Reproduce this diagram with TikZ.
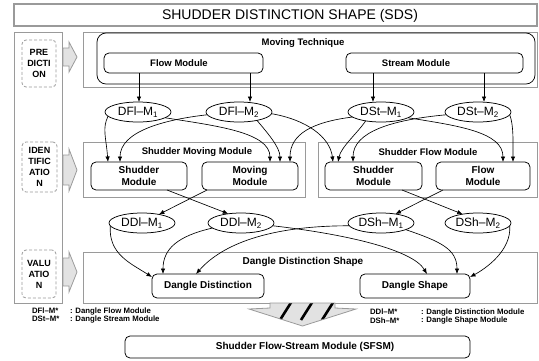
\documentclass[tikz,border=0pt]{standalone}
\usepackage{fontspec}
\setmainfont{Liberation Sans}
\usetikzlibrary{arrows.meta,shapes.geometric}
\definecolor{frame}{HTML}{9A9A9A}
\definecolor{lightfill}{HTML}{E2E2E2}
\begin{document}
\begin{tikzpicture}[x=1pt,y=-1pt,
  every node/.style={inner sep=0pt,outer sep=0pt},
  gbox/.style={draw=frame,line width=0.9pt,anchor=north west},
  rbox/.style={draw,line width=0.75pt,rounded corners=5pt,anchor=north west},
  ell/.style={ellipse,draw,line width=0.75pt,minimum width=66pt,minimum height=20pt,
    font=\fontsize{12}{12}\selectfont},
  con/.style={-{Latex[length=5.5pt,width=4.4pt]},line width=0.65pt},
  lab/.style={font=\bfseries\fontsize{9.5}{11}\selectfont,align=center},
  lab2/.style={font=\bfseries\fontsize{10}{12}\selectfont,align=center},
  side/.style={draw=frame,dash pattern=on 3pt off 2pt,rounded corners=4pt,
    line width=0.8pt,anchor=north west,font=\bfseries\fontsize{9}{11}\selectfont,align=center},
  blockarrow/.style={fill=lightfill,draw=frame,line width=0.8pt},
  legend/.style={font=\bfseries\fontsize{7.8}{8}\selectfont,anchor=west},
]
\useasboundingbox (0,0) rectangle (539,360);

% title bar
\node[gbox,line width=1.3pt,minimum width=523pt,minimum height=22pt] (title) at (14,4) {};
\node[font=\fontsize{14}{14}\selectfont] (titletext) at (290,15.5) {SHUDDER DISTINCTION SHAPE (SDS)};

% left column with the three phases
\node[gbox,minimum width=48pt,minimum height=271pt] (leftcol) at (14,32) {};
\node[side,minimum width=34pt,minimum height=47pt] (pred) at (22,40) {PRE\\DICTI\\ON};
\node[side,minimum width=35pt,minimum height=50pt] (ident) at (22,142) {IDEN\\TIFIC\\ATIO\\N};
\node[side,minimum width=34pt,minimum height=48pt] (valu) at (22,250) {VALU\\ATIO\\N};

% block arrows from the phases
\draw[blockarrow] (63,48) -- (69,48) -- (69,42) -- (77,57) -- (69,72) -- (69,66) -- (63,66) -- cycle;
\draw[blockarrow] (63,155) -- (69,155) -- (69,149) -- (77,170) -- (69,191) -- (69,185) -- (63,185) -- cycle;
\draw[blockarrow] (63,258) -- (69,258) -- (69,252) -- (77,272) -- (69,292) -- (69,286) -- (63,286) -- cycle;

% prediction: moving technique
\node[gbox,minimum width=454pt,minimum height=55pt] (predgrp) at (83,32) {};
\node[rbox,rounded corners=9pt,minimum width=438pt,minimum height=51pt] (mtech) at (97,33) {};
\node[lab] (mtechtext) at (303,43) {Moving Technique};
\node[rbox,minimum width=159pt,minimum height=20pt] (flowm) at (104,53) {};
\node[lab] (flowmtext) at (179,63) {Flow Module};
\node[rbox,minimum width=177pt,minimum height=20pt] (streamm) at (346,53) {};
\node[lab] (streammtext) at (416,63) {Stream Module};

% first row of dangle modules
\node[ell] (dfl1) at (138,112) {DFl–M\textsubscript{1}};
\node[ell] (dfl2) at (239,112) {DFl–M\textsubscript{2}};
\node[ell] (dst1) at (381,112) {DSt–M\textsubscript{1}};
\node[ell] (dst2) at (478,112) {DSt–M\textsubscript{2}};

\draw[con] ([xshift=35pt]flowm.south west) -- ([xshift=1pt]dfl1.north);
\draw[con] ([xshift=146pt]flowm.south west) -- ([xshift=11pt]dfl2.north);
\draw[con] ([xshift=27pt]streamm.south west) -- ([xshift=-8pt]dst1.north);
\draw[con] ([xshift=138pt]streamm.south west) -- ([xshift=6pt]dst2.north);

% identification groups
\node[gbox,minimum width=222pt,minimum height=55pt] (smm) at (83,142) {};
\node[lab] (smmtext) at (197,152.5) {Shudder Moving Module};
\node[gbox,minimum width=219pt,minimum height=55pt] (sfm) at (318,142) {};
\node[lab] (sfmtext) at (428,152.5) {Shudder Flow Module};
\node[rbox,lab2,minimum width=96pt,minimum height=28pt] (shudl) at (91,162) {Shudder\\Module};
\node[rbox,lab2,minimum width=96pt,minimum height=28pt] (moving) at (202,162) {Moving\\Module};
\node[rbox,lab2,minimum width=97pt,minimum height=28pt] (shudr) at (325,162) {Shudder\\Module};
\node[rbox,lab2,minimum width=94pt,minimum height=28pt] (flowr) at (436,162) {Flow\\Module};

% first row -> identification modules
\draw[con] (dfl1.188) .. controls +(-6,12) and +(-2,-25) .. ([xshift=17pt]shudl.north west);
\draw[con] (dfl2.185) .. controls +(-45,5) and +(0,-30) .. ([xshift=29pt]shudl.north west);
\draw[con] (dfl1.-12) .. controls +(50,8) and +(0,-30) .. ([xshift=68pt]moving.north west);
\draw[con] (dfl2.-25) .. controls +(10,12) and +(0,-15) .. ([xshift=78pt]moving.north west);
\draw[con] (dst1.190) .. controls +(-40,5) and +(0,-28) .. ([xshift=88pt]moving.north west);
\draw[con] (dfl2.-3) .. controls +(35,6) and +(-3,-25) .. ([xshift=8pt]shudr.north west);
\draw[con] (dst1.-150) .. controls +(-8,12) and +(3,-15) .. ([xshift=13pt]shudr.north west);
\draw[con] (dst2.185) .. controls +(-55,5) and +(0,-30) .. ([xshift=28pt]shudr.north west);
\draw[con] (dst1.-12) .. controls +(50,8) and +(0,-30) .. ([xshift=67pt]flowr.north west);
\draw[con] (dst2.-5) .. controls +(4,10) and +(0,-20) .. ([xshift=77pt]flowr.north west);

% second row of dangle modules
\node[ell] (ddl1) at (142,223) {DDl–M\textsubscript{1}};
\node[ell] (ddl2) at (241,223) {DDl–M\textsubscript{2}};
\node[ell] (dsh1) at (381,223) {DSh–M\textsubscript{1}};
\node[ell] (dsh2) at (478,223) {DSh–M\textsubscript{2}};

\draw[con] ([xshift=-20pt]shudl.south east) -- (ddl2.144);
\draw[con] ([xshift=5pt]moving.south west) -- (ddl1.27);
\draw[con] ([xshift=-20pt]shudr.south east) -- (dsh2.150);
\draw[con] ([xshift=7pt]flowr.south west) -- (dsh1.32);

% valuation
\node[gbox,minimum width=454pt,minimum height=51pt] (valgrp) at (83,252) {};
\node[lab2] (valtext) at (303,262) {Dangle Distinction Shape};
\node[rbox,lab2,minimum width=112pt,minimum height=24pt] (dd) at (152,274) {Dangle Distinction};
\node[rbox,lab2,minimum width=110pt,minimum height=24pt] (ds) at (360,274) {Dangle Shape};

\draw[con] (ddl1.185) .. controls +(-2,28) and +(-22,-14) .. ([yshift=-3pt]dd.north west);
\draw[con] (ddl2.190) .. controls +(-35,8) and +(0,-25) .. ([xshift=11pt]dd.north west);
\draw[con] (dsh1.185) .. controls +(-90,0) and +(22,-25) .. ([xshift=44pt]dd.north west);
\draw[con] (ddl2.-5) .. controls +(70,8) and +(-15,-25) .. ([xshift=67pt]ds.north west);
\draw[con] (dsh1.-15) .. controls +(35,12) and +(0,-25) .. ([xshift=97pt]ds.north west);
\draw[con] (dsh2.-5) .. controls +(2,25) and +(15,-8) .. ([yshift=-3pt]ds.north east);

% hatched arrow down to the result
\fill[lightfill] (270,303) -- (335,303) -- (335,308) -- (356,309) -- (302.5,326) -- (249,309) -- (270,308) -- cycle;
\begin{scope}
  \clip (270,303) -- (335,303) -- (335,308) -- (356,309) -- (302.5,326) -- (249,309) -- (270,308) -- cycle;
  \draw[line width=2.6pt] (292,301) -- (280,320);
  \draw[line width=2.6pt] (313,301) -- (301,320);
  \draw[line width=2.6pt] (334,301) -- (322,320);
\end{scope}
\draw[draw=frame,line width=0.8pt] (270,303) -- (335,303) -- (335,308) -- (356,309) -- (302.5,326) -- (249,309) -- (270,308) -- cycle;

% legend
\node[legend] (lg1) at (32,311) {DFl–M*};
\node[legend] (lg1t) at (70,311) {: Dangle Flow Module};
\node[legend] (lg2) at (32,319) {DSt–M*};
\node[legend] (lg2t) at (70,319) {: Dangle Stream Module};
\node[legend] (lg3) at (370,312) {DDl–M*};
\node[legend] (lg3t) at (421,312) {: Dangle Distinction Module};
\node[legend] (lg4) at (370,320.5) {DSh–M*};
\node[legend] (lg4t) at (421,320.5) {: Dangle Shape Module};

% result
\node[rbox,minimum width=345pt,minimum height=22pt] (sfsm) at (125,336) {};
\node[lab2] (sfsmtext) at (305,347) {Shudder Flow-Stream Module (SFSM)};
\end{tikzpicture}
\end{document}
